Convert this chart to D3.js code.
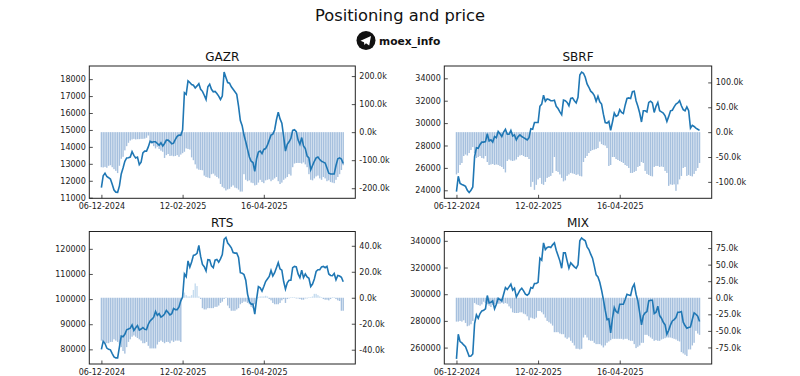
<!DOCTYPE html>
<html>
<head>
<meta charset="utf-8">
<script src="https://cdn.jsdelivr.net/npm/d3@7"></script>
<style>
  html, body { margin: 0; padding: 0; background: #fff; }
  svg { display: block; }
  text { font-family: "DejaVu Sans", sans-serif; fill: #222; }
  .tick text { font-size: 8px; }
  .tick line { stroke: #222; stroke-width: 0.8; }
  .frame { fill: none; stroke: #222; stroke-width: 1; }
</style>
</head>
<body>
<svg id="chart" width="800" height="376"></svg>
<script>
const dateLabels = ['06-12-2024', '12-02-2025', '16-04-2025'];
const dateTicks = [0, 45, 90];

const gazrPrice = [11600,12300,12450,12250,12180,12100,11800,11450,11330,11320,11700,12400,12750,13150,13350,13360,13400,13720,13500,13350,13400,12950,13100,13650,13750,13750,14000,14330,14270,14300,14300,14200,14100,14250,14050,14200,14400,14400,14300,14180,14220,14450,14620,14700,14680,15000,17200,17100,17900,17800,17680,17640,17480,17600,17730,17400,17280,17050,16800,17550,17700,17400,17250,17270,17150,17000,16800,17000,18420,18100,17800,17760,17550,17400,17250,17100,16400,15550,15250,14700,14300,13850,13400,13150,13080,12550,13300,13700,13750,13600,13850,13900,14100,14400,14700,14750,15000,15600,16050,15650,15400,14600,13750,14150,14300,14500,14980,15020,14900,14400,14150,14550,14050,13900,13450,13350,12650,12900,13150,13350,13400,13250,13150,13100,13050,12750,12450,12400,12400,12400,12900,13300,13350,13280,13020];
const gazrPosition = [-125,-126,-124,-127,-120,-118,-125,-132,-138,-146,-120,-95,-88,-65,-50,-38,-30,-26,-24,-26,-25,-25,-24,-24,-23,-20,-12,-30,-42,-50,-58,-52,-60,-66,-70,-92,-82,-78,-85,-84,-86,-85,-82,-88,-80,-75,-70,-58,-60,-62,-90,-100,-115,-130,-134,-135,-136,-155,-160,-162,-164,-150,-148,-155,-160,-165,-185,-195,-200,-208,-204,-202,-195,-190,-198,-200,-205,-212,-212,-150,-170,-175,-172,-180,-182,-190,-188,-180,-170,-178,-182,-172,-170,-168,-175,-170,-165,-160,-175,-185,-180,-170,-165,-160,-150,-155,-125,-112,-110,-110,-110,-112,-108,-115,-125,-150,-170,-172,-165,-158,-155,-165,-170,-160,-165,-175,-172,-178,-180,-182,-170,-160,-150,-135,-118];

const sbrfPrice = [23880,25250,24600,24520,24450,24350,24000,23800,24000,24300,27000,27800,27750,28100,28300,28300,28350,29050,28400,28500,28300,28800,28700,29250,29050,28800,29200,29450,29000,29000,29350,28850,28950,28500,28800,28950,28800,28700,28600,28500,28700,29500,29450,30050,30050,30050,31500,31700,32500,31950,32150,32100,32000,32000,32050,31500,31300,31000,30750,32050,32000,31850,31550,32200,32250,32000,31800,32300,34300,34550,34450,34100,33500,33200,32850,32700,32450,31950,32400,31900,31700,30800,30050,30000,30150,29350,30100,30900,30600,30700,31200,30950,30850,31600,32200,32250,32200,32800,32850,32000,31500,30900,30100,31100,31100,31000,31850,31950,31800,30950,31500,31850,31100,31000,30900,30650,30150,30600,31100,31150,31450,31700,31800,32000,31550,31200,31100,31450,31100,29550,29800,29700,29550,29450,29350];
const sbrfPosition = [-85,-82,-66,-62,-48,-45,-47,-42,-36,-30,-42,-52,-50,-48,-52,-53,-48,-60,-66,-65,-64,-66,-65,-66,-68,-70,-74,-81,-58,-55,-57,-58,-57,-55,-50,-47,-46,-48,-50,-50,-54,-110,-100,-116,-106,-95,-92,-104,-106,-100,-92,-90,-88,-82,-50,-78,-80,-85,-92,-99,-97,-88,-85,-82,-83,-84,-86,-85,-88,-89,-60,-52,-48,-42,-38,-36,-35,-34,-32,-19,-24,-26,-27,-32,-68,-66,-50,-50,-54,-56,-58,-60,-62,-66,-68,-72,-82,-82,-80,-78,-70,-68,-60,-62,-78,-84,-86,-88,-89,-70,-68,-68,-70,-69,-70,-78,-82,-108,-105,-106,-105,-118,-105,-95,-88,-72,-70,-88,-86,-88,-89,-84,-78,-72,-62];

const rtsPrice = [80000,83200,82300,80500,80000,79800,78300,77000,76600,76600,81000,85300,85000,86000,87800,88100,88400,89700,87500,88600,89500,87700,88100,88700,88000,87900,90000,91300,92000,92800,95100,93500,94200,92800,93300,94100,95500,94700,93700,94200,96300,95800,95800,96900,99300,100800,110000,108900,115200,112700,114800,117400,117600,118200,121400,117000,113800,112900,111200,115700,115600,113200,112500,115500,115800,114700,116000,117700,123800,124500,122300,121400,120400,118500,118300,118300,116600,110500,110300,109800,107500,102000,99000,98000,98000,94000,100000,105000,104500,103200,105000,107000,108000,109000,111400,109200,110500,112500,114500,112000,111500,107000,104000,106500,107500,107500,112500,113000,112800,110000,108500,111500,108500,110000,108800,108300,105000,106000,108000,111000,111700,111700,112800,113000,112500,113000,110000,109400,109300,110200,107700,109400,109200,108700,106900];
const rtsPosition = [-33,-33,-35,-35,-35,-34,-34,-32,-33,-34,-36,-38,-41,-43,-38,-34,-32,-30,-29,-30,-31,-32,-33,-35,-35,-34,-37,-39,-39,-39,-39,-36,-34,-33,-34,-35,-34,-34,-35,-33,-34,-33,-33,-33,-34,1,4,2,1,1,2,6,11,9,1,-1,-8,-9,-9,-8,-8,-8,-8,-7,-7,-6,-4,-3,-1,0.5,-6,-8,-10,-10,-10,-9,-8,-5,-4,-3,-3,-4,-5,-7,-8,-5,-1,0.5,1,1,1,1.5,1,-1,-2,-4,-5,-5,-5,-4,-2,-1,-4,-1,-0.5,0.5,0.5,0.5,-0.5,-0.5,-1,-1.5,-1.5,-0.5,-0.5,0.5,0.5,1,3,3,2,1,0.5,-1,-1.5,-1.5,-2,-1,0.5,0.5,-1,-2,-2.5,-10,-10];

const mixPrice = [251500,270000,264500,263500,262000,260700,257000,253500,253700,255200,278000,284500,282000,285500,287500,288000,289000,299000,293500,294000,295000,289000,292500,297000,296000,295000,300000,305000,303500,305500,307500,303000,304500,298000,300500,303000,304500,302500,300000,299200,300500,305000,304500,308000,308000,309000,327000,325500,338500,333500,335000,335500,335000,337000,338500,333000,329000,325000,319500,331000,331000,325000,319500,323500,322000,320500,319500,322000,340000,342200,341000,340000,335500,333500,330000,327000,321000,314500,313000,309000,303000,296000,288000,281000,281500,271000,282000,290000,287000,286000,292500,292500,292500,296000,300000,299500,299000,305000,307500,300000,295000,286000,277000,284000,286000,287000,295000,295500,295500,285500,286500,291000,284000,282000,279000,277000,270000,273000,277000,280000,281000,282500,286500,286500,287000,279000,276500,274500,275000,275500,281000,286000,285000,283500,279500];
const mixPosition = [-36,-36,-35,-36,-34,-38,-43,-42,-40,-35,-8,-10,-11,-12,-10,-6,-8,-10,-12,-14,-11,-10,-10,-9,-9,-8,-9,-8,-9,-13,-16,-22,-23,-23,-23,-22,-22,-24,-25,-28,-34,-30,-31,-32,-30,-20,-20,-22,-25,-30,-35,-37,-39,-42,-52,-52,-52,-54,-55,-55,-60,-62,-60,-65,-68,-72,-77,-77,-78,-77,-60,-56,-60,-64,-65,-65,-68,-70,-70,-70,-72,-75,-72,-68,-66,-64,-62,-62,-62,-62,-62,-62,-63,-62,-62,-64,-65,-65,-70,-76,-74,-72,-68,-68,-56,-56,-58,-60,-62,-65,-64,-65,-65,-63,-62,-61,-60,-60,-60,-61,-62,-63,-65,-66,-82,-84,-86,-88,-78,-78,-72,-68,-50,-54,-56];

const panels = [
    { name: 'GAZR', price: gazrPrice, position: gazrPosition, left: 89.3, right: 355.3, top: 66, bottom: 198.3,
      priceDomain: [10965, 18775], posLimit: 236,
      priceTicks: [11000, 12000, 13000, 14000, 15000, 16000, 17000, 18000], posTicks: [-200, -100, 0, 100, 200] },
    { name: 'SBRF', price: sbrfPrice, position: sbrfPosition, left: 444.3, right: 711.7, top: 66, bottom: 198.3,
      priceDomain: [23284, 35100], posLimit: 133,
      priceTicks: [24000, 26000, 28000, 30000, 32000, 34000], posTicks: [-100, -50, 0, 50, 100] },
    { name: 'RTS', price: rtsPrice, position: rtsPosition, left: 89.3, right: 355.3, top: 231.5, bottom: 364,
      priceDomain: [74170, 126900], posLimit: 51,
      priceTicks: [80000, 90000, 100000, 110000, 120000], posTicks: [-40, -20, 0, 20, 40] },
    { name: 'MIX', price: mixPrice, position: mixPosition, left: 444.3, right: 711.7, top: 231.5, bottom: 364,
      priceDomain: [247700, 347000], posLimit: 100,
      priceTicks: [260000, 280000, 300000, 320000, 340000], posTicks: [-75, -50, -25, 0, 25, 50, 75] },
];

const svg = d3.select('#chart');

svg.append('text')
    .attr('x', 400)
    .attr('y', 21)
    .attr('text-anchor', 'middle')
    .style('font-size', '16.3px')
    .style('fill', '#111')
    .text('Positioning and price');

// telegram badge
const badge = svg.append('g').attr('transform', 'translate(366,40.5)');
badge.append('circle').attr('r', 9.5).attr('fill', '#111');
badge.append('path').attr('d', 'M-5.5,0.3 L5,-4.6 L3.2,5 L0,2.8 L-1.6,4.6 L-2,1.8 Z').attr('fill', '#fff');
svg.append('text')
    .attr('x', 379)
    .attr('y', 44.5)
    .style('font-size', '10.7px')
    .style('font-weight', 'bold')
    .style('fill', '#111')
    .text('moex_info');

panels.forEach((p) => {
    const x = d3.scaleLinear().domain([-6.7, 140.7]).range([p.left, p.right]);
    const yPrice = d3.scaleLinear().domain(p.priceDomain).range([p.bottom, p.top]);
    const yPos = d3.scaleLinear().domain([-p.posLimit, p.posLimit]).range([p.bottom, p.top]);

    const g = svg.append('g');

    // positioning bars go under the price line
    g.append('g')
        .selectAll('rect')
        .data(p.position)
        .join('rect')
        .attr('x', (d, i) => x(i) - 0.7)
        .attr('width', 1.4)
        .attr('y', (d) => Math.min(yPos(d), yPos(0)))
        .attr('height', (d) => Math.abs(yPos(d) - yPos(0)))
        .attr('fill', (d) => (d < 0 ? '#a6c0de' : '#c6dcef'));

    const line = d3.line()
        .x((d, i) => x(i))
        .y((d) => yPrice(d));

    g.append('path')
        .datum(p.price)
        .attr('d', line)
        .attr('fill', 'none')
        .attr('stroke', '#1f77b4')
        .attr('stroke-width', 1.6);

    const xAxis = d3.axisBottom(x)
        .tickValues(dateTicks)
        .tickFormat((d, i) => dateLabels[i])
        .tickSizeInner(-3.5)
        .tickSizeOuter(0)
        .tickPadding(5);
    const leftAxis = d3.axisLeft(yPrice)
        .tickValues(p.priceTicks)
        .tickFormat((d) => d)
        .tickSizeInner(-3.5)
        .tickSizeOuter(0)
        .tickPadding(3.5);
    const rightAxis = d3.axisRight(yPos)
        .tickValues(p.posTicks)
        .tickFormat((d) => d3.format('.1f')(d).replace('\u2212', '-') + 'k')
        .tickSizeInner(-3.5)
        .tickSizeOuter(0)
        .tickPadding(4);

    g.append('g').attr('transform', `translate(0,${p.bottom})`).call(xAxis).call((a) => a.select('.domain').remove());
    g.append('g').attr('transform', `translate(${p.left},0)`).call(leftAxis).call((a) => a.select('.domain').remove());
    g.append('g').attr('transform', `translate(${p.right},0)`).call(rightAxis).call((a) => a.select('.domain').remove());

    g.append('rect')
        .attr('class', 'frame')
        .attr('x', p.left)
        .attr('y', p.top)
        .attr('width', p.right - p.left)
        .attr('height', p.bottom - p.top);

    g.append('text')
        .attr('x', (p.left + p.right) / 2)
        .attr('y', p.top - 5)
        .attr('text-anchor', 'middle')
        .style('font-size', '12px')
        .style('fill', '#111')
        .text(p.name);
});
</script>
</body>
</html>
